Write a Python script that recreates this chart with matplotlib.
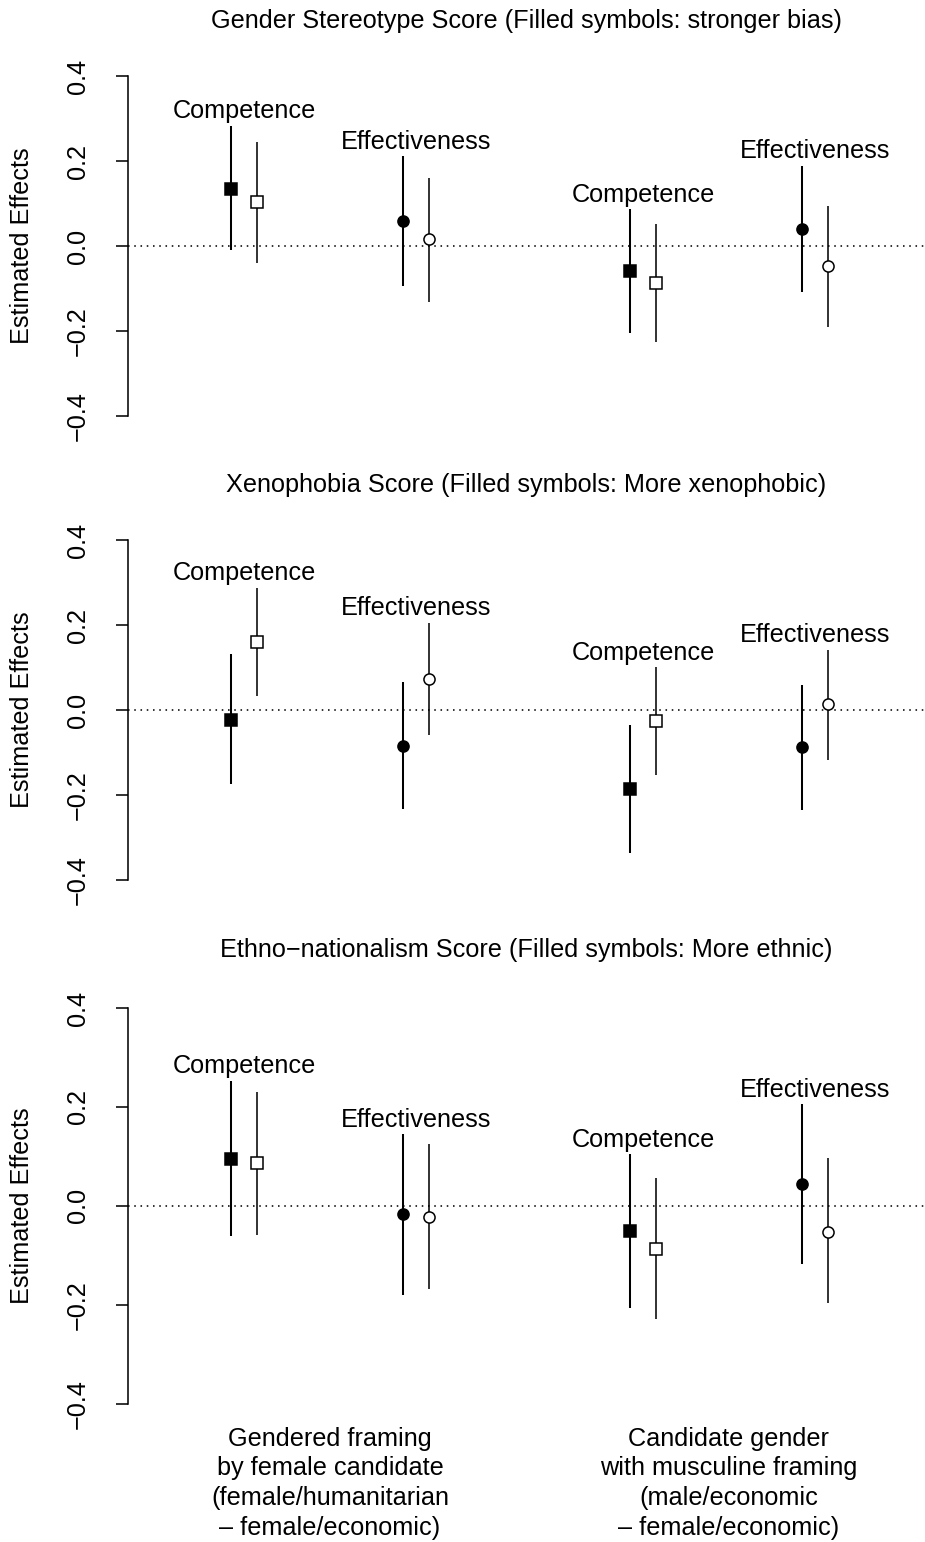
import matplotlib
matplotlib.use('Agg')
import matplotlib.pyplot as plt

plt.rcParams['font.family'] = ['Liberation Sans', 'DejaVu Sans']
plt.rcParams['font.size'] = 18.2

# 位置：两组，每组两个指标，每个指标实心/空心两个点
xpos = [1, 1.15, 2, 2.15, 3.32, 3.47, 4.32, 4.47]
pair_labels = ['Competence', 'Effectiveness', 'Competence', 'Effectiveness']
filled = [True, False, True, False, True, False, True, False]
marker_kind = ['s', 's', 'o', 'o', 's', 's', 'o', 'o']

group_labels = ['Gendered framing\nby female candidate\n(female/humanitarian\n\u2013 female/economic)',
                'Candidate gender\nwith musculine framing\n(male/economic\n\u2013 female/economic)']

titles = ['Gender Stereotype Score (Filled symbols: stronger bias)',
          'Xenophobia Score (Filled symbols: More xenophobic)',
          'Ethno\u2212nationalism Score (Filled symbols: More ethnic)']

gender_est = [0.135, 0.103, 0.059, 0.016, -0.059, -0.088, 0.041, -0.047]
gender_lo = [-0.009, -0.039, -0.094, -0.131, -0.205, -0.227, -0.108, -0.191]
gender_hi = [0.283, 0.244, 0.211, 0.159, 0.086, 0.051, 0.189, 0.095]

xeno_est = [-0.023, 0.160, -0.085, 0.074, -0.186, -0.025, -0.088, 0.013]
xeno_lo = [-0.175, 0.033, -0.232, -0.058, -0.337, -0.152, -0.236, -0.117]
xeno_hi = [0.131, 0.287, 0.065, 0.205, -0.036, 0.101, 0.058, 0.142]

ethno_est = [0.095, 0.086, -0.016, -0.022, -0.051, -0.088, 0.044, -0.052]
ethno_lo = [-0.060, -0.058, -0.179, -0.168, -0.206, -0.229, -0.117, -0.197]
ethno_hi = [0.253, 0.231, 0.145, 0.126, 0.104, 0.056, 0.205, 0.096]

panels = [(gender_est, gender_lo, gender_hi),
          (xeno_est, xeno_lo, xeno_hi),
          (ethno_est, ethno_lo, ethno_hi)]

fig = plt.figure(figsize=(9.25, 15.42), dpi=100)
# 每个面板的位置 [left, bottom, width, height]
rects = [[0.1384, 0.7214, 0.8616, 0.2381],
         [0.1384, 0.4205, 0.8616, 0.2381],
         [0.1384, 0.0793, 0.8616, 0.2773]]

lw = 1.125
for i, (est, lo, hi) in enumerate(panels):
    ax = fig.add_axes(rects[i])
    ax.set_xlim(0.401, 5.035)
    ax.set_ylim(-0.432, 0.432)
    ax.axhline(0, color='black', lw=lw, linestyle=(0, (1, 3)))
    for j in range(len(xpos)):
        ax.vlines(xpos[j], lo[j], hi[j], color='black', lw=lw * (1.3 if filled[j] else 1.0))
        ax.plot(xpos[j], est[j], marker=marker_kind[j], markersize=8.5 if marker_kind[j] == 's' else 8,
                markerfacecolor='black' if filled[j] else 'white',
                markeredgecolor='black', markeredgewidth=1.1, linestyle='none', zorder=3)
    # 指标名称放在每对误差线上方
    for k in range(4):
        cx = (xpos[2 * k] + xpos[2 * k + 1]) / 2
        top = max(hi[2 * k], hi[2 * k + 1])
        ax.annotate(pair_labels[k], xy=(cx, top), xytext=(0, 10.5), textcoords='offset points',
                    ha='center', va='center')
    ax.annotate(titles[i], xy=(0.5, 1), xycoords='axes fraction', xytext=(0, 30),
                textcoords='offset points', ha='center', va='center')
    for s in ['top', 'right', 'bottom']:
        ax.spines[s].set_visible(False)
    ax.spines['left'].set_bounds(-0.4, 0.4)
    ax.spines['left'].set_linewidth(lw)
    ax.set_yticks([-0.4, -0.2, 0.0, 0.2, 0.4])
    ax.set_yticklabels(['\u22120.4', '\u22120.2', '0.0', '0.2', '0.4'], rotation=90, va='center')
    ax.tick_params(axis='y', length=8.6, width=lw, pad=19)
    ax.set_xticks([])
    ax.text(-0.133, 0.5, 'Estimated Effects', transform=ax.transAxes, rotation=90,
            ha='center', va='center')
    if i == 2:
        for g in range(2):
            gx = sum(xpos[4 * g:4 * g + 4]) / 4
            ax.annotate(group_labels[g], xy=(gx, 0), xycoords=('data', 'axes fraction'),
                        xytext=(0, -5), textcoords='offset points', ha='center', va='top',
                        linespacing=1.3)

fig.savefig('out.png', dpi=100)
